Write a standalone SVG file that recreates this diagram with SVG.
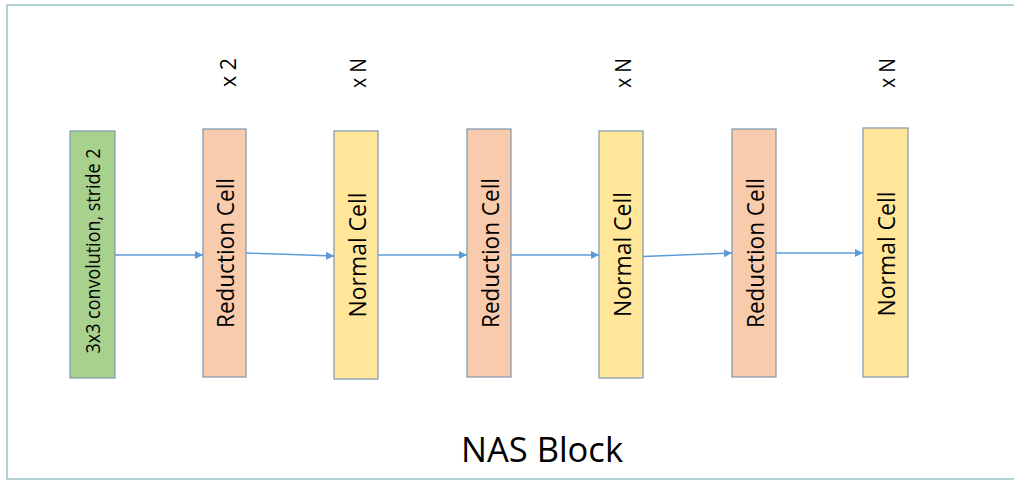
<svg xmlns="http://www.w3.org/2000/svg" width="1014" height="481" viewBox="0 0 1014 481">
  <defs>
    <marker id="arr" viewBox="0 0 10 10" refX="10" refY="5" markerWidth="8" markerHeight="8" markerUnits="userSpaceOnUse" orient="auto">
      <path d="M0,0 L10,5 L0,10 z" fill="#5b9bd5"/>
    </marker>
  </defs>
  <style>
    .box { stroke: #7f97ad; stroke-width: 1.2; }
    .green { fill: #a9d18e; }
    .red { fill: #f8cbad; }
    .norm { fill: #ffe699; }
    .lbl { font-family: "Open Sans", "Liberation Sans", sans-serif; fill: #000; text-anchor: middle; dominant-baseline: central; }
    .conn { stroke: #5b9bd5; stroke-width: 1.3; fill: none; marker-end: url(#arr); }
  </style>
  <rect x="0" y="0" width="1014" height="481" fill="#ffffff"/>
  <rect x="7" y="5" width="1020" height="474" fill="none" stroke="#9cc4c8" stroke-width="1.5"/>

  <g id="conv">
    <rect class="box green" x="70" y="131" width="45" height="247"/>
    <text class="lbl" font-size="20" transform="translate(92.5,251) rotate(-90)" textLength="205" lengthAdjust="spacingAndGlyphs">3x3 convolution, stride 2</text>
  </g>
  <g id="red1">
    <rect class="box red" x="203" y="129" width="43" height="248"/>
    <text class="lbl" font-size="24" transform="translate(224.5,253) rotate(-90)" textLength="150" lengthAdjust="spacingAndGlyphs">Reduction Cell</text>
  </g>
  <g id="norm1">
    <rect class="box norm" x="334" y="131" width="44" height="248"/>
    <text class="lbl" font-size="24" transform="translate(356,255) rotate(-90)" textLength="125" lengthAdjust="spacingAndGlyphs">Normal Cell</text>
  </g>
  <g id="red2">
    <rect class="box red" x="467" y="129" width="44" height="248"/>
    <text class="lbl" font-size="24" transform="translate(489,253) rotate(-90)" textLength="150" lengthAdjust="spacingAndGlyphs">Reduction Cell</text>
  </g>
  <g id="norm2">
    <rect class="box norm" x="599" y="131" width="44" height="247"/>
    <text class="lbl" font-size="24" transform="translate(621,254.5) rotate(-90)" textLength="125" lengthAdjust="spacingAndGlyphs">Normal Cell</text>
  </g>
  <g id="red3">
    <rect class="box red" x="732" y="129" width="44" height="248"/>
    <text class="lbl" font-size="24" transform="translate(754,253) rotate(-90)" textLength="150" lengthAdjust="spacingAndGlyphs">Reduction Cell</text>
  </g>
  <g id="norm3">
    <rect class="box norm" x="863" y="128" width="45" height="249"/>
    <text class="lbl" font-size="24" transform="translate(885.5,254) rotate(-90)" textLength="125" lengthAdjust="spacingAndGlyphs">Normal Cell</text>
  </g>

  <g id="mult">
    <text class="lbl" font-size="21" transform="translate(228,72.5) rotate(-90)" textLength="29" lengthAdjust="spacingAndGlyphs">x 2</text>
    <text class="lbl" font-size="21" transform="translate(358,73) rotate(-90)" textLength="30" lengthAdjust="spacingAndGlyphs">x N</text>
    <text class="lbl" font-size="21" transform="translate(623,73) rotate(-90)" textLength="30" lengthAdjust="spacingAndGlyphs">x N</text>
    <text class="lbl" font-size="21" transform="translate(887,73) rotate(-90)" textLength="30" lengthAdjust="spacingAndGlyphs">x N</text>
  </g>

  <g id="connectors">
    <line class="conn" x1="115" y1="255" x2="203" y2="255"/>
    <line class="conn" x1="246" y1="253" x2="334" y2="256"/>
    <line class="conn" x1="378" y1="255" x2="467" y2="255"/>
    <line class="conn" x1="511" y1="255" x2="599" y2="255"/>
    <line class="conn" x1="643" y1="256.5" x2="732" y2="253"/>
    <line class="conn" x1="776" y1="253" x2="863" y2="253"/>
  </g>

  <text id="title" x="542" y="462" font-family="Open Sans, Liberation Sans, sans-serif" font-size="35" text-anchor="middle" fill="#000" textLength="162" lengthAdjust="spacingAndGlyphs">NAS Block</text>
</svg>
